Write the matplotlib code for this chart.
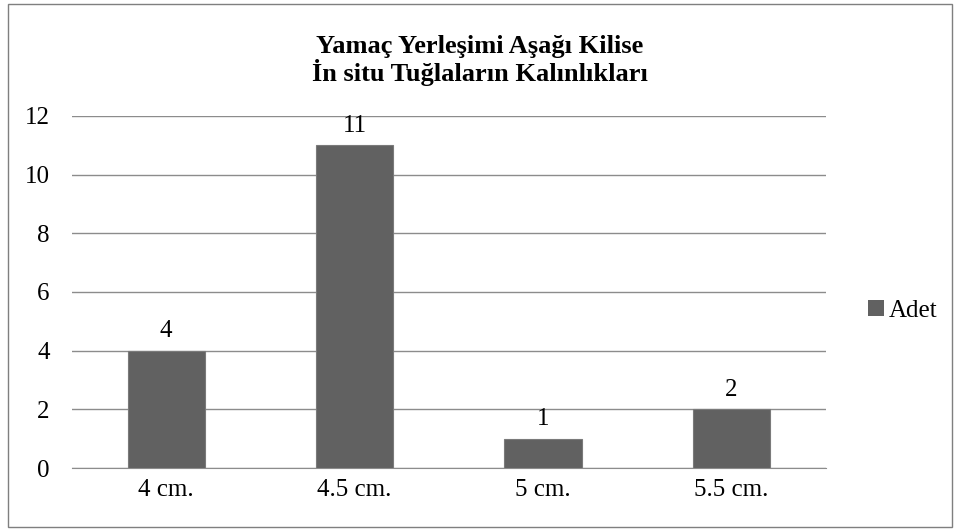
import matplotlib
matplotlib.use("Agg")
import matplotlib.pyplot as plt
from matplotlib.patches import Rectangle, Patch

# data
categories = ["4 cm.", "4.5 cm.", "5 cm.", "5.5 cm."]
adet = [4, 11, 1, 2]
series_name = "Adet"
title = "Yamaç Yerleşimi Aşağı Kilise\nİn situ Tuğlaların Kalınlıkları"

BAR_COLOR = "#616161"
GRID_COLOR = "#8c8c8c"
FS = 18

plt.rcParams["font.family"] = ["Liberation Serif", "DejaVu Serif"]

fig = plt.figure(figsize=(9.6, 5.31), dpi=100)
ax = fig.add_axes([0.075, 0.1186, 0.785, 0.663])

x = list(range(len(categories)))
ax.bar(x, adet, width=0.41, color=BAR_COLOR, edgecolor="#7a7a7a",
       linewidth=0.8, zorder=3)
for xi, v in zip(x, adet):
    ax.text(xi, v + 0.3, str(v), ha="center", va="bottom", fontsize=FS)

ax.set_xlim(-0.5, len(categories) - 0.5)
ax.set_ylim(0, 12)
ax.set_yticks(range(0, 13, 2))
ax.set_xticks(x)
ax.set_xticklabels(categories)
ax.tick_params(axis="both", length=0, labelsize=FS)
ax.tick_params(axis="x", pad=8)
ax.tick_params(axis="y", pad=16)
ax.grid(axis="y", color=GRID_COLOR, linewidth=1.0, zorder=0)
for side in ["left", "right", "top"]:
    ax.spines[side].set_visible(False)
ax.spines["bottom"].set_color(GRID_COLOR)

fig.text(0.5, 0.934, title, ha="center", va="top", fontsize=19,
         fontweight="bold", linespacing=1.05)

fig.legend(handles=[Patch(facecolor=BAR_COLOR, label=series_name)],
           loc="center left", bbox_to_anchor=(0.904, 0.415), frameon=False,
           fontsize=FS, handlelength=0.65, handleheight=0.65, handletextpad=0.2,
           borderpad=0, borderaxespad=0)

fig.patches.append(Rectangle((0.008, 0.008), 0.984, 0.984, transform=fig.transFigure,
                             fill=False, edgecolor="#7f7f7f", linewidth=1.0))

fig.savefig("out.png", dpi=100)
plt.close(fig)
